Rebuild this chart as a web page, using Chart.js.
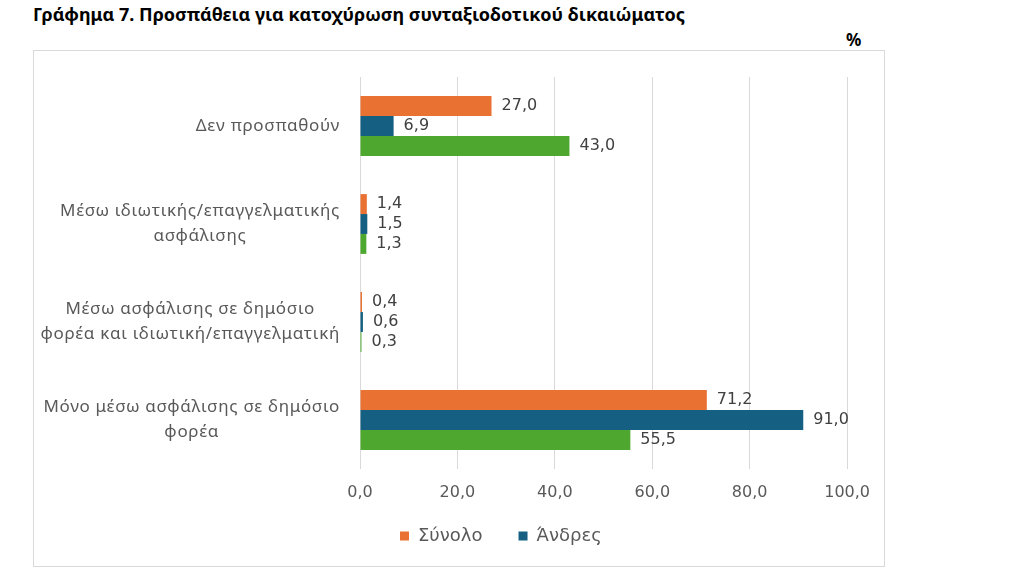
<!DOCTYPE html>
<html>
<head>
<meta charset="utf-8">
<script src="https://cdn.jsdelivr.net/npm/chart.js@4"></script>
<style>
  body { margin: 0; background: #fff; }
  #title { position: absolute; left: 33px; top: 2px; font: bold 18px "Noto Sans", sans-serif; color: #000; white-space: nowrap; }
  #unit { position: absolute; left: 846px; top: 28px; font: bold 17px "Noto Sans", sans-serif; color: #000; }
  #box { position: absolute; left: 33px; top: 50px; width: 850px; height: 515px; border: 1px solid #d9d9d9; }
</style>
</head>
<body>
<div id="title">Γράφημα 7. Προσπάθεια για κατοχύρωση συνταξιοδοτικού δικαιώματος</div>
<div id="unit">%</div>
<div id="box"><canvas id="chart" width="850" height="515"></canvas></div>
<script>
// categories, one array of lines per label
const categories = [
    ['Δεν προσπαθούν'],
    ['Μέσω ιδιωτικής/επαγγελματικής', 'ασφάλισης'],
    ['Μέσω ασφάλισης σε δημόσιο', 'φορέα και ιδιωτική/επαγγελματική'],
    ['Μόνο μέσω ασφάλισης σε δημόσιο', 'φορέα']
];
const seriesNames = ['Σύνολο', 'Άνδρες', 'Γυναίκες'];
const totalValues = [27.0, 1.4, 0.4, 71.2];
const menValues = [6.9, 1.5, 0.6, 91.0];
const womenValues = [43.0, 1.3, 0.3, 55.5];
const xTicks = [0, 20, 40, 60, 80, 100];

const colors = ['#E97132', '#156082', '#4EA72E'];
const labelFmt = v => v.toFixed(1).replace('.', ',');

// value labels to the right of each bar
const barLabels = {
    id: 'barLabels',
    afterDatasetsDraw(chart) {
        const ctx = chart.ctx;
        ctx.save();
        ctx.font = '16px "DejaVu Sans"';
        ctx.fillStyle = '#404040';
        ctx.textAlign = 'left';
        ctx.textBaseline = 'middle';
        chart.data.datasets.forEach((ds, i) => {
            chart.getDatasetMeta(i).data.forEach((bar, j) => {
                ctx.fillText(labelFmt(ds.data[j]), bar.x + 10, bar.y);
            });
        });
        ctx.restore();
    }
};

// category labels: block right-aligned, lines centred on the widest line
const catLabels = {
    id: 'catLabels',
    afterDraw(chart) {
        const ctx = chart.ctx;
        const y = chart.scales.y;
        ctx.save();
        ctx.font = '17px "Noto Sans"';
        ctx.letterSpacing = '0.7px';
        ctx.fillStyle = '#595959';
        ctx.textAlign = 'center';
        ctx.textBaseline = 'middle';
        const right = chart.chartArea.left - 20;
        const lh = 25;
        categories.forEach((lines, i) => {
            const widest = Math.max(...lines.map(l => ctx.measureText(l).width));
            const cx = right - widest / 2;
            const cy = y.getPixelForValue(i);
            lines.forEach((l, k) => {
                ctx.fillText(l, cx, cy + (k - (lines.length - 1) / 2) * lh);
            });
        });
        ctx.restore();
    }
};

// place the legend like in the original
const legendPos = {
    id: 'legendPos',
    afterLayout(chart) {
        const lg = chart.legend;
        lg.left = 330;
        lg.top = 440;
    }
};

new Chart(document.getElementById('chart'), {
    type: 'bar',
    data: {
        labels: categories.map(c => c.join(' ')),
        datasets: [
            { label: seriesNames[0], data: totalValues, backgroundColor: colors[0] },
            { label: seriesNames[1], data: menValues, backgroundColor: colors[1] },
            { label: seriesNames[2], data: womenValues, backgroundColor: colors[2] }
        ]
    },
    options: {
        indexAxis: 'y',
        responsive: false,
        animation: false,
        categoryPercentage: 0.61,
        barPercentage: 1.0,
        layout: { padding: { top: 26, right: 36, bottom: 11, left: 0 } },
        scales: {
            x: {
                min: 0,
                max: 100,
                afterBuildTicks: s => { s.ticks = xTicks.map(v => ({ value: v })); },
                afterFit: s => { s.height = 48; },
                grid: { color: '#d9d9d9', drawTicks: false },
                border: { display: false },
                ticks: {
                    padding: 14,
                    color: '#595959',
                    font: { family: 'DejaVu Sans', size: 16 },
                    callback: v => labelFmt(v)
                }
            },
            y: {
                afterFit: s => { s.width = 326; },
                grid: { display: false },
                border: { display: false },
                ticks: { display: false }
            }
        },
        plugins: {
            legend: {
                position: 'bottom',
                align: 'start',
                maxHeight: 38,
                labels: {
                    boxWidth: 9,
                    boxHeight: 9,
                    padding: 36,
                    color: '#595959',
                    font: { family: 'DejaVu Sans', size: 18 },
                    filter: item => item.datasetIndex < 2
                }
            },
            tooltip: { enabled: false }
        }
    },
    plugins: [barLabels, catLabels, legendPos]
});
</script>
</body>
</html>
